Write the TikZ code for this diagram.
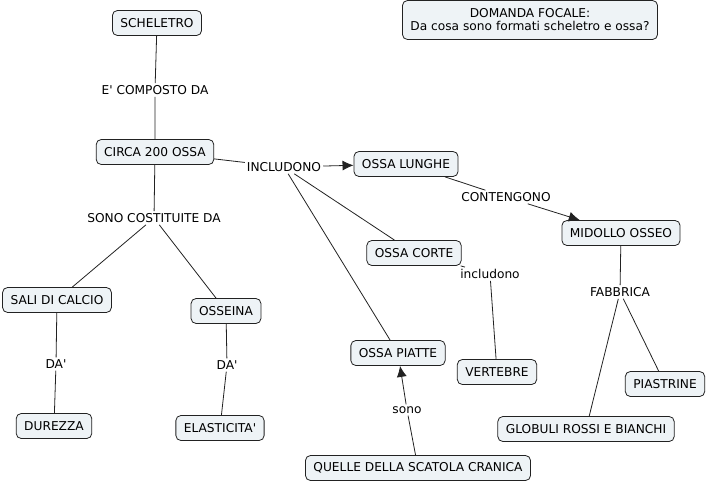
\documentclass[tikz,border=0pt]{standalone}
\usepackage{fontspec}
\setmainfont{DejaVu Sans}[Ligatures=TeXOff]
\usetikzlibrary{arrows.meta}
\definecolor{boxfill}{HTML}{EEF3F6}
\definecolor{edgegray}{HTML}{222222}

\begin{document}
\begin{tikzpicture}[x=1pt,y=-1pt,font=\fontsize{12.2}{14}\selectfont,
  concept/.style={draw=edgegray,fill=boxfill,rounded corners=5pt,line width=0.8pt,inner xsep=8pt,minimum height=25pt},
  linkword/.style={inner sep=2pt},
  link/.style={draw=edgegray,line width=0.8pt},
  tip/.style={link,-{Latex[length=11pt,width=10pt]}}]
\useasboundingbox (0,0) rectangle (709,483);
\node[concept] (scheletro) at (157,23) {SCHELETRO};
\node[concept,align=center,minimum height=39pt] (domanda) at (530,20) {DOMANDA FOCALE:\\[-1pt]Da cosa sono formati scheletro e ossa?};
\node[concept] (circa) at (155,152) {CIRCA 200 OSSA};
\node[concept] (lunghe) at (406,164) {OSSA LUNGHE};
\node[concept] (midollo) at (621,233) {MIDOLLO OSSEO};
\node[concept] (corte) at (414,253) {OSSA CORTE};
\node[concept] (vertebre) at (497,372) {VERTEBRE};
\node[concept] (piatte) at (398,353) {OSSA PIATTE};
\node[concept] (cranica) at (418,468) {QUELLE DELLA SCATOLA CRANICA};
\node[concept] (piastrine) at (665,384) {PIASTRINE};
\node[concept] (globuli) at (586,429) {GLOBULI ROSSI E BIANCHI};
\node[concept] (sali) at (57,300) {SALI DI CALCIO};
\node[concept] (osseina) at (226,311) {OSSEINA};
\node[concept] (durezza) at (54,426) {DUREZZA};
\node[concept] (elast) at (220,428) {ELASTICITA'};

\node[linkword] (composto) at (155,90) {E' COMPOSTO DA};
\node[linkword] (includono) at (284,167) {INCLUDONO};
\node[linkword] (contengono) at (506,197) {CONTENGONO};
\node[linkword] (incl) at (490,274) {includono};
\node[linkword] (sono) at (407,410) {sono};
\node[linkword] (fabbrica) at (620,292) {FABBRICA};
\node[linkword] (costituite) at (154,218) {SONO COSTITUITE DA};
\node[linkword] (da1) at (56,364) {DA'};
\node[linkword] (da2) at (227,365) {DA'};

\draw[link] (scheletro) -- (composto) -- (circa);
\draw[link] (circa) -- (includono);
\draw[tip] (includono) -- (lunghe);
\draw[link] (includono) -- (corte);
\draw[link] (includono) -- (piatte);
\draw[link] (lunghe) -- (contengono);
\draw[tip] (contengono) -- (midollo);
\draw[link] (corte) -- (incl) -- (vertebre);
\draw[link] (cranica) -- (sono);
\draw[tip] (sono) -- (piatte);
\draw[link] (midollo) -- (fabbrica);
\draw[link] (fabbrica) -- (piastrine);
\draw[link] (fabbrica) -- (globuli);
\draw[link] (circa) -- (costituite);
\draw[link] (costituite) -- (sali);
\draw[link] (costituite) -- (osseina);
\draw[link] (sali) -- (da1) -- (durezza);
\draw[link] (osseina) -- (da2) -- (elast);
\end{tikzpicture}
\end{document}
